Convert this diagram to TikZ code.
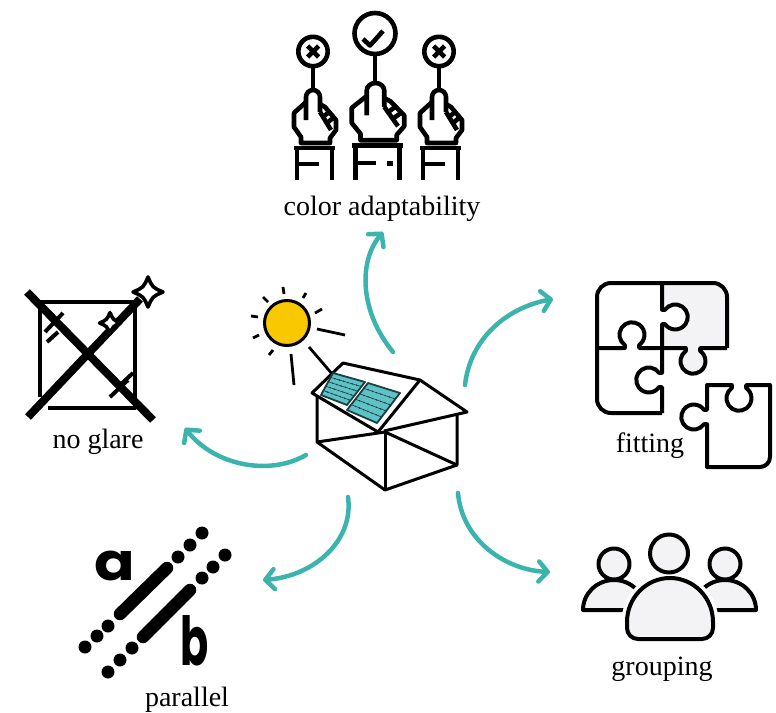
\documentclass[tikz,border=0pt]{standalone}
\usepackage{fontspec}
\setmainfont{Liberation Serif}
\newfontfamily\glyphfont{Poppins}
\usetikzlibrary{arrows.meta,calc}

\definecolor{arrowteal}{RGB}{59,180,174}
\definecolor{panelteal}{RGB}{94,194,198}
\definecolor{paneldark}{RGB}{28,64,66}
\definecolor{sunyellow}{RGB}{250,200,0}
\definecolor{softgrey}{RGB}{243,243,246}

\tikzset{
  icon/.style={line width=4pt, line join=round},
  handline/.style={line width=4.6pt, line join=round},
  houseline/.style={line width=3pt, line join=round},
  ray/.style={line width=2.8pt},
  flow/.style={draw=arrowteal, line width=4.5pt, line cap=round,
    -{Straight Barb[length=9pt, width=20pt, round]}},
  caption/.style={font=\fontsize{28}{30}\selectfont, anchor=base, inner sep=0pt},
  panelrow/.style={draw=paneldark, line width=0.6pt},
  paneldots/.style={draw=paneldark, line width=1.6pt, line cap=round, dash pattern=on 0pt off 4.5pt},
  hand/.pic={
    \draw[handline] (-7,30) -- (-7,7) arc[start angle=180, end angle=360, radius=7] -- (7,22);
    \draw[handline] (-7,12) -- (-19,23) -- (-19,37) -- (-12,47) -- (-12,53) -- (17,53)
                -- (17,48) -- (23,40) -- (23,30) -- (12,17) -- (7,14);
    \draw[handline] (7,22) -- (18,40);
    \draw[handline] (10,27) -- (16,22) (14,33) -- (20,28);
    \draw[handline] (-19,58) -- (22,58) (-16,58) -- (-16,90) (19,58) -- (19,90);
  },
  sparkle/.pic={
    \draw[line width=3.6pt, fill=white, line join=round]
      (0,-15) .. controls (4.5,-4.5) .. (15,0) .. controls (4.5,4.5) .. (0,15)
      .. controls (-4.5,4.5) .. (-15,0) .. controls (-4.5,-4.5) .. cycle;
  }
}

\begin{document}
\begin{tikzpicture}[x=1pt, y=-1pt]
\useasboundingbox (0,0) rectangle (776,712);
\fill[white] (0,0) rectangle (776,712);

% ---------- centre: sun and house with solar roof ----------
\draw[ray] (283,287) -- (284,294);
\draw[ray] (263,297) -- (268,302);
\draw[ray] (251,316) -- (258,317);
\draw[ray] (253,338) -- (259,335);
\draw[ray] (269,355) -- (273,350);
\draw[ray] (306,293) -- (303,298);
\draw[ray] (322,309) -- (315,313);
\draw[ray] (317,329) -- (345,335);
\draw[ray] (291,354) -- (294,385);
\draw[ray] (309,347) -- (333,375);
\draw[line width=3pt, fill=sunyellow] (287,323) circle[radius=22.5];

\coordinate (rA) at (343,363);
\coordinate (rB) at (420,380);
\coordinate (rC) at (378,432);
\coordinate (rD) at (312,393);
\draw[houseline] (rB) -- (467,412) -- (384,431);
\draw[houseline] (317,396) -- (317,442) -- (385,490) -- (457,465) -- (457,413);
\draw[houseline] (385,432) -- (385,490);
\draw[houseline] (317,442) -- (385,432) -- (457,465);
\draw[houseline, fill=white] (rA) -- (rB) -- (rC) -- (rD) -- cycle;

\coordinate (p1a) at (333,373); \coordinate (p1b) at (365,382);
\coordinate (p1c) at (347,405); \coordinate (p1d) at (321,395);
\coordinate (p2a) at (368,383); \coordinate (p2b) at (400,393);
\coordinate (p2c) at (377,423); \coordinate (p2d) at (347,410);
\draw[draw=paneldark, line width=1.8pt, fill=panelteal, line join=round] (p1a) -- (p1b) -- (p1c) -- (p1d) -- cycle;
\draw[draw=paneldark, line width=1.8pt, fill=panelteal, line join=round] (p2a) -- (p2b) -- (p2c) -- (p2d) -- cycle;
\foreach \f in {0.2,0.4,0.6,0.8} {
  \draw[panelrow] ($(p1a)!\f!(p1d)$) -- ($(p1b)!\f!(p1c)$);
  \draw[paneldots] ($(p1a)!\f!(p1d)$) -- ($(p1b)!\f!(p1c)$);
  \draw[panelrow] ($(p2a)!\f!(p2d)$) -- ($(p2b)!\f!(p2c)$);
  \draw[paneldots] ($(p2a)!\f!(p2d)$) -- ($(p2b)!\f!(p2c)$);
}

% ---------- arrows out of the centre ----------
\coordinate (hubN) at (393,352);  \coordinate (tipN) at (383,232);
\coordinate (hubNE) at (465,385); \coordinate (tipNE) at (553,299);
\coordinate (hubW) at (306,455);  \coordinate (tipW) at (185,428);
\coordinate (hubSW) at (348,497); \coordinate (tipSW) at (263,580);
\coordinate (hubSE) at (458,493); \coordinate (tipSE) at (550,572);
\draw[flow] (hubN) .. controls (360,312) and (358,262) .. (tipN);
\draw[flow] (hubNE) .. controls (470,340) and (505,308) .. (tipNE);
\draw[flow] (hubW) .. controls (270,476) and (215,466) .. (tipW);
\draw[flow] (hubSW) .. controls (354,540) and (315,576) .. (tipSW);
\draw[flow] (hubSE) .. controls (462,540) and (505,570) .. (tipSE);

% ---------- top: hands holding signs ----------
\draw[handline] (313,51.5) circle[radius=14.7];
\draw[handline] (375,33.5) circle[radius=20.5];
\draw[handline] (439,51.5) circle[radius=14.7];
\draw[handline] (313,66.2) -- (313,90);
\draw[handline] (375,54) -- (375,83);
\draw[handline] (439,66.2) -- (439,90);
\draw[handline] (313,51.5) +(-5.5,-5.5) -- +(5.5,5.5) +(-5.5,5.5) -- +(5.5,-5.5);
\draw[handline] (439,51.5) +(-5.5,-5.5) -- +(5.5,5.5) +(-5.5,5.5) -- +(5.5,-5.5);
\draw[handline] (363,39) -- (370,45.5) -- (383,31);
\pic at (313,90) {hand};
\pic[xscale=1.25, yscale=1.08] at (375.5,83) {hand};
\pic at (439,90) {hand};
\draw[handline] (297,164) -- (319,164);
\draw[handline] (423,164) -- (445,164);
\draw[handline] (355.5,163) -- (376,163);
\fill (387,160.5) rectangle (392.5,166);
\node[caption] (lblcolour) at (382,215) {color adaptability};

% ---------- left: no glare ----------
\draw[icon] (40,397) -- (40,302) -- (135,302) -- (135,408) -- (48,408);
\draw[icon] (45,332) -- (63,313);
\draw[icon] (47,342) -- (58,332);
\draw[icon] (110,397) -- (128,380);
\draw[icon] (118,387) -- (133,373);
\draw[line width=8pt] (27,292) -- (153,420);
\draw[line width=8pt] (28,417) -- (140,299);
\pic at (148,292) {sparkle};
\pic[scale=0.7] at (110,323) {sparkle};
\node[caption] (lblglare) at (98,448) {no glare};

% ---------- right: puzzle ----------
\fill[softgrey] (662,283) -- (713,283) arc[start angle=270, end angle=360, radius=14] -- (727,348) -- (662,348) -- cycle;
\fill[white] (662,309.8) -- (665,309.8) arc[start angle=215, end angle=505, radius=12.5] -- (662,324.2) -- cycle;
\fill[softgrey] (685.8,348) -- (685.8,351) arc[start angle=235, end angle=-55, radius=12.5] -- (700.2,348) -- cycle;
\draw[icon] (662,413) -- (611,413) arc[start angle=90, end angle=180, radius=14]
  -- (597,297) arc[start angle=180, end angle=270, radius=14]
  -- (713,283) arc[start angle=270, end angle=360, radius=14] -- (727,348);
\draw[icon] (662,348) -- (685.8,348) -- (685.8,351) arc[start angle=235, end angle=-55, radius=12.5] -- (700.2,348) -- (727,348);
\draw[icon] (662,283) -- (662,309.8) -- (665,309.8) arc[start angle=215, end angle=505, radius=12.5] -- (662,324.2) -- (662,348);
\draw[icon] (597,348) -- (624.8,348) -- (624.8,345) arc[start angle=125, end angle=415, radius=12.5] -- (639.2,348) -- (662,348);
\draw[icon] (662,348) -- (662,372.8) -- (659,372.8) arc[start angle=-35, end angle=-325, radius=12.5] -- (662,387.2) -- (662,413);
\draw[icon, fill=white] (707,385) -- (731.8,385) -- (731.8,388) arc[start angle=235, end angle=-55, radius=12.5]
  -- (746.2,385) -- (770,385) -- (770,457) arc[start angle=0, end angle=90, radius=10]
  -- (707,467) -- (707,424.2) -- (704,424.2) arc[start angle=35, end angle=325, radius=12.5]
  -- (707,409.8) -- cycle;
\node[caption] (lblfit) at (650,452) {fitting};

% ---------- bottom right: group of people ----------
\draw[icon, fill=softgrey] (583,610) arc[start angle=180, end angle=360, x radius=31, y radius=30] -- cycle;
\draw[icon, fill=softgrey] (694,610) arc[start angle=180, end angle=360, x radius=31, y radius=30] -- cycle;
\draw[icon, fill=softgrey] (614,564) circle[radius=15.5];
\draw[icon, fill=softgrey] (725,564) circle[radius=15.5];
\draw[icon, fill=softgrey, preaction={draw=white, line width=11pt}]
  (627,622) arc[start angle=180, end angle=360, x radius=43, y radius=44]
  -- (713,628) arc[start angle=0, end angle=90, radius=11]
  -- (638,639) arc[start angle=90, end angle=180, radius=11] -- cycle;
\draw[icon, fill=softgrey] (669,553.5) circle[radius=19];
\node[caption] (lblgroup) at (662,675) {grouping};

% ---------- bottom left: parallel ----------
\foreach \p in {(85,647),(97,636),(108,626),(178,557),(190,545),(202,533),
                (108,672),(120,660),(132,648),(202,578),(213,567),(225,555)}
  \fill \p circle[radius=6.5];
\draw[line width=12.5pt, line cap=round] (120,614) -- (167,568);
\draw[line width=12.5pt, line cap=round] (143,637) -- (190,590);
\node[font=\glyphfont\bfseries\fontsize{52}{52}\selectfont, inner sep=0pt, xscale=1.15, transform shape] (lettera) at (115,566) {a};
\node[font=\glyphfont\bfseries\fontsize{52}{52}\selectfont, inner sep=0pt, xscale=0.8, yscale=1.3, transform shape] (letterb) at (195,641) {b};
\node[caption] (lblpar) at (187,706) {parallel};
\end{tikzpicture}
\end{document}
